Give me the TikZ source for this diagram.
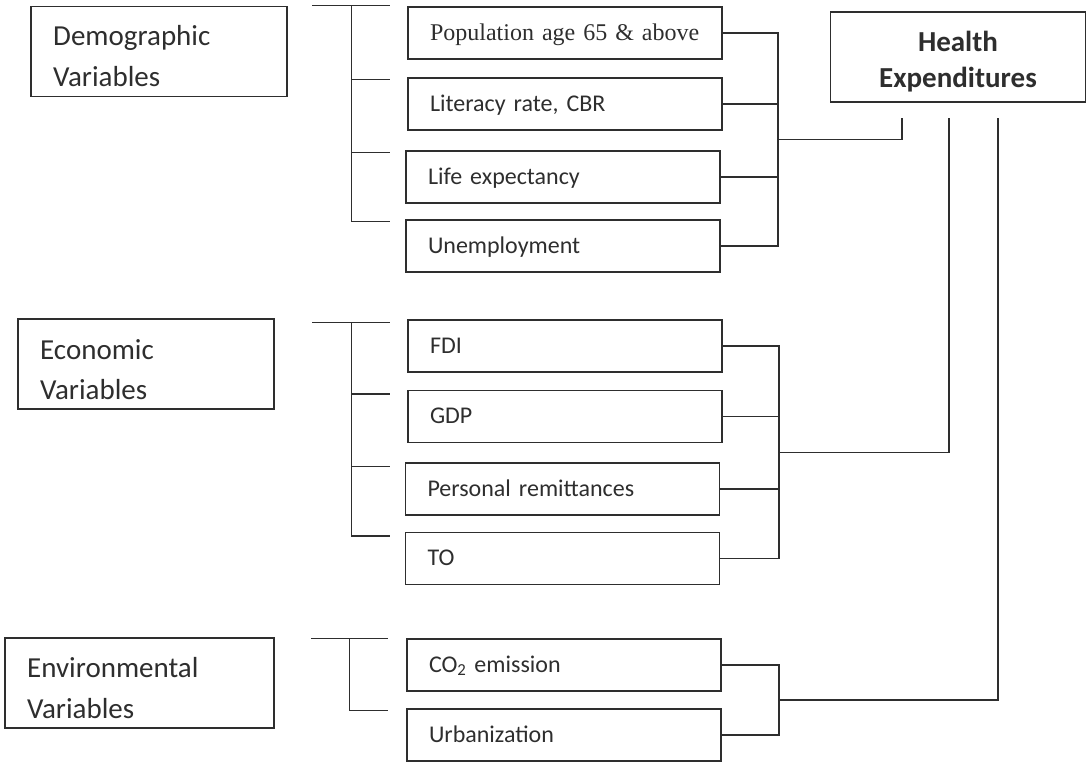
\documentclass[tikz,border=0pt]{standalone}
\usepackage{fontspec}
\setmainfont{Carlito}
\newfontfamily\timesf{Liberation Serif}
\usetikzlibrary{calc}
\definecolor{ink}{HTML}{2E2E2E}
\tikzset{
  conn/.style={draw=ink, line width=1.5pt},
  smallbox/.style={draw=ink, line width=1.5pt, minimum width=314pt, minimum height=52pt,
    text width=270pt, inner xsep=22pt, inner ysep=0pt, align=left,
    text height=17pt, text depth=3pt, font=\fontsize{24}{28}\selectfont, text=ink},
  bigbox/.style={draw=ink, line width=1.5pt, minimum height=90pt, inner sep=0pt},
  bigtxt/.style={font=\fontsize{29}{35}\selectfont, text=ink, inner sep=0pt, anchor=base west},
  hetxt/.style={font=\bfseries\fontsize{29}{35}\selectfont, text=ink, inner sep=0pt, anchor=base},
}
\begin{document}
\begin{tikzpicture}[x=1pt,y=-1pt]
\useasboundingbox (0,0) rectangle (1087,763);

% group boxes
\node[bigbox, minimum width=256pt] (demo) at (159,51.5) {};
\node[bigtxt] (demoa) at (53,45) {Demographic};
\node[bigtxt] (demob) at (53,86) {Variables};

\node[bigbox, minimum width=256pt] (econ) at (146,364) {};
\node[bigtxt] (econa) at (40,359) {Economic};
\node[bigtxt] (econb) at (40,399) {Variables};

\node[bigbox, minimum width=269pt] (env) at (139.5,683) {};
\node[bigtxt] (enva) at (27,677) {Environmental};
\node[bigtxt] (envb) at (27,718) {Variables};

\node[bigbox, minimum width=255pt] (he) at (958,57) {};
\node[hetxt] (hea) at (958,51) {Health};
\node[hetxt] (heb) at (958,87) {Expenditures};

% variable boxes
\node[smallbox] (pop) at (565,33) {\timesf Population age 65 \& above};
\node[smallbox] (lit) at (565,104) {Literacy rate, CBR};
\node[smallbox] (life) at (563,177) {Life expectancy};
\node[smallbox] (unemp) at (563,246) {Unemployment};

\node[smallbox] (fdi) at (565,346) {FDI};
\node[smallbox] (gdp) at (565,416.5) {GDP};
\node[smallbox] (pers) at (562.5,489) {Personal remittances};
\node[smallbox] (to) at (562.5,558.5) {TO};

\node[smallbox] (co2) at (564,665) {CO\textsubscript{2} emission};
\node[smallbox] (urb) at (564,735) {Urbanization};

% left brackets
\coordinate (dtop) at ($(pop.north west)+(-95,-1)$);
\coordinate (dtr) at ($(dtop)+(39,0)$);
\draw[conn] (dtop) -- ++(78,0);
\draw[conn] (dtr) |- ($(dtr |- unemp.north)+(39,2)$);
\foreach \n in {lit,life} \draw[conn] ($(dtr |- \n.north)+(0,2)$) -- ++(39,0);

\coordinate (etop) at ($(fdi.north west)+(-95,3)$);
\coordinate (etr) at ($(etop)+(39,0)$);
\draw[conn] (etop) -- ++(78,0);
\draw[conn] (etr) |- ($(etr |- to.north)+(39,4)$);
\foreach \n in {gdp,pers} \draw[conn] ($(etr |- \n.north)+(0,4)$) -- ++(39,0);

\coordinate (vtop) at ($(co2.north west)+(-95,0)$);
\coordinate (vtr) at ($(vtop)+(38,0)$);
\draw[conn] (vtop) -- ++(77,0);
\draw[conn] (vtr) |- ($(vtr |- urb.north)+(39,2)$);

% anchor points under Health Expenditures
\coordinate (he1) at ($(he.south)+(-56,15)$);
\coordinate (he2) at ($(he.south)+(-9,15)$);
\coordinate (he3) at ($(he.south)+(40,15)$);

% right brackets
\coordinate (dR) at ($(pop.east)+(55,0)$);
\draw[conn] (pop.east) -- (dR) |- (unemp.east);
\foreach \n in {lit,life} \draw[conn] (\n.east) -- (dR |- \n.east);
\coordinate (dM) at ($(dR)!0.5!(dR |- unemp.east)$);
\draw[conn] (dM) -| (he1);

\coordinate (eR) at ($(fdi.east)+(56,0)$);
\draw[conn] (fdi.east) -- (eR) |- (to.east);
\foreach \n in {gdp,pers} \draw[conn] (\n.east) -- (eR |- \n.east);
\coordinate (eM) at ($(eR)!0.5!(eR |- to.east)$);
\draw[conn] (eM) -| (he2);

\coordinate (vR) at ($(co2.east)+(57,0)$);
\draw[conn] (co2.east) -- (vR) |- (urb.east);
\coordinate (vM) at ($(vR)!0.5!(vR |- urb.east)$);
\draw[conn] (vM) -| (he3);
\end{tikzpicture}
\end{document}
